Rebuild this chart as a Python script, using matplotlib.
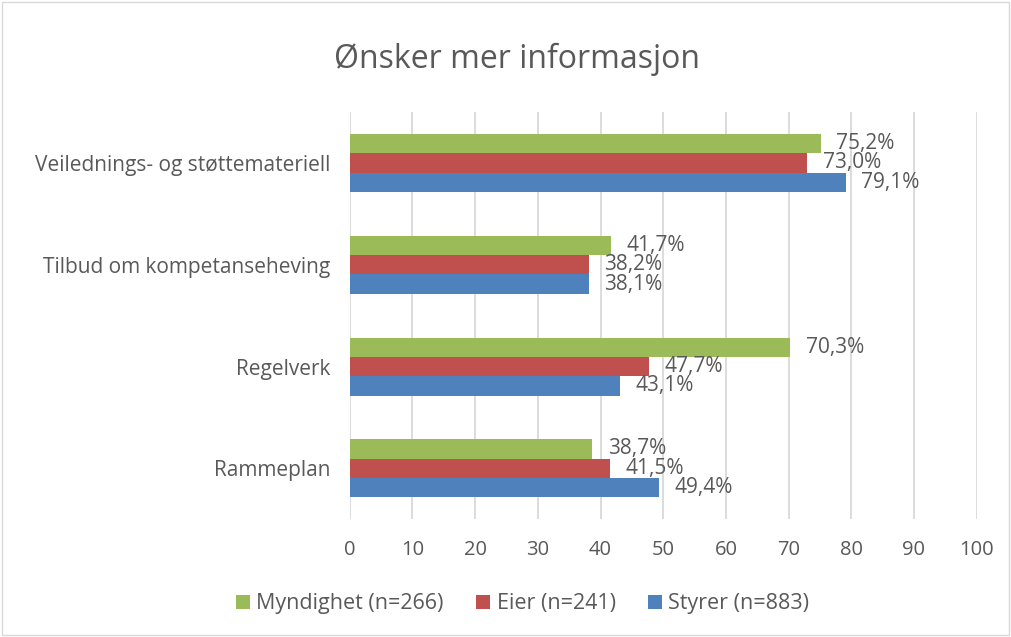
import matplotlib.pyplot as plt
import numpy as np

plt.rcParams['font.family'] = ['Open Sans', 'DejaVu Sans']

categories = ['Rammeplan', 'Regelverk', 'Tilbud om kompetanseheving',
              'Veilednings- og støttemateriell']
styrer = [49.4, 43.1, 38.1, 79.1]
eier = [41.5, 47.7, 38.2, 73.0]
myndighet = [38.7, 70.3, 41.7, 75.2]
series_names = ['Myndighet (n=266)', 'Eier (n=241)', 'Styrer (n=883)']
xticks = [0, 10, 20, 30, 40, 50, 60, 70, 80, 90, 100]

txt = '#595959'
colors = ['#9BBB59', '#C0504D', '#4F81BD']

fig = plt.figure(figsize=(10.11, 6.37), dpi=100)
ax = fig.add_axes([0.346, 0.185, 0.620, 0.639])

y = np.arange(len(categories))
h = 0.19
series = [myndighet, eier, styrer]
offsets = [h, 0, -h]
for vals, off, col, name in zip(series, offsets, colors, series_names):
    bars = ax.barh(y + off, vals, height=h, color=col, label=name, zorder=3)
    for b, v in zip(bars, vals):
        ax.annotate(f'{v:.1f}%'.replace('.', ','),
                    (b.get_width(), b.get_y() + b.get_height() / 2),
                    xytext=(11, 0), textcoords='offset points',
                    va='center', ha='left', fontsize=15, color=txt, zorder=4)

ax.set_xlim(0, 100)
ax.set_ylim(-0.5, 3.5)
ax.set_xticks(xticks)
ax.set_yticks(y)
ax.set_yticklabels(categories)
ax.tick_params(axis='both', length=0, labelsize=14.5, colors=txt)
ax.tick_params(axis='y', labelsize=15)
ax.tick_params(axis='x', pad=15)
ax.tick_params(axis='y', pad=14)
ax.grid(axis='x', color='#D9D9D9', linewidth=1.3, zorder=0)
for s in ax.spines.values():
    s.set_visible(False)

fig.text(0.511, 0.906, 'Ønsker mer informasjon', ha='center', va='center',
         fontsize=23, color=txt)

leg = fig.legend(loc='center', bbox_to_anchor=(0.517, 0.052), ncol=3,
                 frameon=False, fontsize=15.5, handlelength=0.65,
                 handleheight=0.65, handletextpad=0.3, columnspacing=1.5)
for t in leg.get_texts():
    t.set_color(txt)

fig.patches.append(plt.Rectangle((0.002, 0.003), 0.996, 0.994,
                                 transform=fig.transFigure, fill=False,
                                 edgecolor='#D9D9D9', linewidth=1))

fig.savefig('out.png', dpi=100)
